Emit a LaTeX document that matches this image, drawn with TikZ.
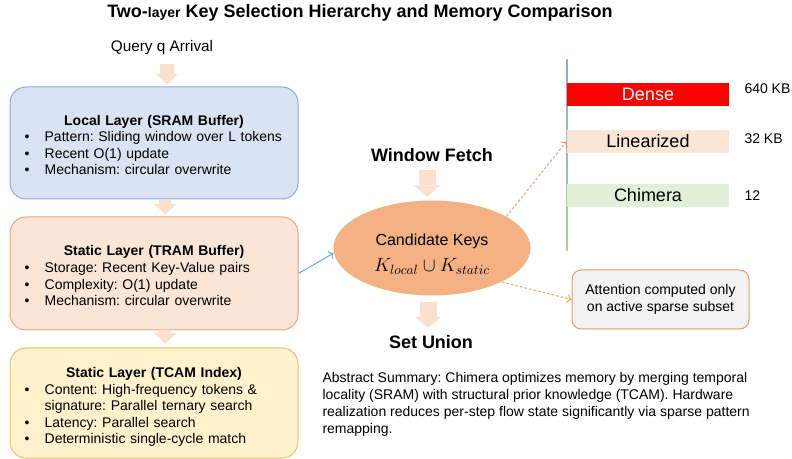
\documentclass[tikz,border=0pt]{standalone}
\usepackage{fontspec}
\setmainfont{Liberation Sans}
\usetikzlibrary{shapes.geometric,arrows.meta}
\frenchspacing

\definecolor{localfill}{HTML}{DAE3F3}
\definecolor{localline}{HTML}{8FAADC}
\definecolor{tramfill}{HTML}{FBE5D6}
\definecolor{tramline}{HTML}{EFA679}
\definecolor{tcamfill}{HTML}{FFF2CC}
\definecolor{tcamline}{HTML}{E2C36A}
\definecolor{arrowpeach}{HTML}{FBE1CD}
\definecolor{candfill}{HTML}{F4B183}
\definecolor{densered}{HTML}{FF0000}
\definecolor{chimfill}{HTML}{E2F0D9}
\definecolor{attfill}{HTML}{F2F2F2}
\definecolor{attline}{HTML}{E49C66}
\definecolor{axistop}{HTML}{8FAADC}
\definecolor{axisbot}{HTML}{A9D18E}
\definecolor{linkblue}{HTML}{62B3CF}
\definecolor{dashorange}{HTML}{E9A06A}
\definecolor{dashgold}{HTML}{D4B24E}

\newcommand{\bul}{\hspace*{11pt}\makebox[15pt][l]{\textbullet}}
\newcommand{\cont}{\hspace*{26pt}}

\tikzset{every picture/.style={line width=0.75pt}}
\tikzset{
  layerbox/.style={rounded corners=12pt, text width=216pt, inner xsep=0pt, align=left,
    font=\fontsize{10.5}{12.4}\selectfont},
  bigarrow/.style={draw=arrowpeach, line width=#1,
    -{Triangle[width=17pt,length=8pt,line width=0pt]}},
  bigarrow/.default=10.5pt,
  wideArrow/.style={draw=arrowpeach, line width=12.75pt,
    -{Triangle[width=20pt,length=8.5pt,line width=0pt]}},
  memorybar/.style={minimum width=121.5pt, minimum height=17.25pt, inner sep=0pt,
    font=\fontsize{13.5}{16}\selectfont},
  sizelabel/.style={anchor=west, inner sep=0.75pt, font=\fontsize{10.5}{12}\selectfont},
  headline/.style={inner sep=0.75pt, font=\bfseries\fontsize{13.5}{16}\selectfont}
}

\begin{document}
\begin{tikzpicture}[x=0.75pt,y=0.75pt,yscale=-1,xscale=1]
\useasboundingbox (0,0) rectangle (792,459);

% Text Node
\node (title) at (360,12.5) [headline] {Two-{\fontsize{10.5}{12}\selectfont layer} Key Selection Hierarchy and Memory Comparison};
% Text Node
\node (query) at (162,47.5) [inner sep=0.75pt, font=\fontsize{11.5}{14}\selectfont] {Query q Arrival};

%Shape: Rounded Rect [local layer]
\node (local) at (154,143) [layerbox, fill=localfill, draw=localline, minimum height=84pt] {%
\makebox[\linewidth]{\rule{0pt}{10.5pt}\bfseries Local Layer (SRAM Buffer)}\\
\bul Pattern: Sliding window over L tokens\\
\bul Recent O(1) update\\
\bul Mechanism: circular overwrite};
%Shape: Rounded Rect [tram layer]
\node (tram) at (154,273.5) [layerbox, fill=tramfill, draw=tramline, minimum height=84.75pt] {%
\makebox[\linewidth]{\rule{0pt}{11pt}\bfseries Static Layer (TRAM Buffer)}\\
\bul Storage: Recent Key-Value pairs\\
\bul Complexity: O(1) update\\
\bul Mechanism: circular overwrite};
%Shape: Rounded Rect [tcam layer]
\node (tcam) at (154,403) [layerbox, fill=tcamfill, draw=tcamline, minimum height=82.5pt] {%
\makebox[\linewidth]{\rule{0pt}{14pt}\bfseries Static Layer (TCAM Index)}\\
\bul Content: High-frequency tokens \&\\
\cont signature: Parallel ternary search\\
\bul Latency: Parallel search\\
\bul Deterministic single-cycle match};

%Block Arrows [left column]
\draw [bigarrow, shorten <=6pt, shorten >=1.5pt] ([xshift=3.75pt]query.south) -- ([xshift=3.75pt]query.south |- local.north);
\draw [bigarrow=9pt, shorten <=0.75pt, shorten >=1.5pt] ([xshift=8.5pt]local.south) -- ([xshift=8.5pt]tram.north);
\draw [bigarrow=9pt, shorten <=0.75pt, shorten >=3pt] ([xshift=8.5pt]tram.south) -- ([xshift=8.5pt]tcam.north);

% Text Node
\node (fetch) at (432,155) [headline] {Window Fetch};
%Shape: Ellipse [candidate keys]
\node (cand) at (432,248) [ellipse, fill=candfill, minimum width=147.75pt, minimum height=71.25pt, inner sep=0pt, align=center] {%
\rule{0pt}{18pt}{\fontsize{12}{14}\selectfont Candidate Keys}\\[6pt]
{\fontsize{14}{16}\selectfont $K_{local}\cup K_{static}$}};
% Text Node
\node (union) at (431,342) [headline] {Set Union};

%Block Arrows [centre column]
\draw [wideArrow, shorten <=5.5pt, shorten >=2.5pt] ([xshift=-3.75pt]fetch.south) -- ([xshift=-3.75pt]fetch.south |- cand.north);
\draw [wideArrow, shorten <=4.5pt, shorten >=4.5pt] ([xshift=-3pt]cand.south) -- ([xshift=-3pt]cand.south |- union.north);

%Straight Lines [tram to candidates]
\draw [linkblue, ->] (tram.east) -- (cand.183);

%Shape: Axis
\shade [top color=axistop, bottom color=axisbot] (566.3,60) rectangle (567.8,251);
%Shape: Bars
\node (dense) at (648,94.5) [memorybar, fill=densered, text=white] {Dense};
\node (lin) at (648,141.5) [memorybar, fill=tramfill] {Linearized};
\node (chim) at (648,195.5) [memorybar, fill=chimfill] {Chimera};
% Text Node
\node (densekb) at (743,89) [sizelabel] {640 KB};
\node (linkb) at (743,139) [sizelabel] {32 KB};
\node (chimkb) at (743,196) [sizelabel] {12};

%Shape: Rounded Rect [attention note]
\node (att) at (660.5,299.5) [rounded corners=7pt, fill=attfill, draw=attline, minimum width=132.75pt, minimum height=44.25pt, align=center, inner sep=0pt, font=\fontsize{10.5}{12.6}\selectfont] {Attention computed only\\on active sparse subset};

%Dashed Lines
\draw [dashorange, dash pattern=on 2pt off 1.5pt, ->] (cand.23) -- (lin.west);
\draw [dashgold, dash pattern=on 2pt off 1.5pt, ->] (cand.-26) -- (att.west);

% Text Node
\node (summary) at (322,372) [anchor=north west, inner sep=0pt, align=left, font=\fontsize{10.5}{12.6}\selectfont] {Abstract Summary: Chimera optimizes memory by merging temporal\\
locality (SRAM) with structural prior knowledge (TCAM). Hardware\\
realization reduces per-step flow state significantly via sparse pattern\\
remapping.};

\end{tikzpicture}
\end{document}
